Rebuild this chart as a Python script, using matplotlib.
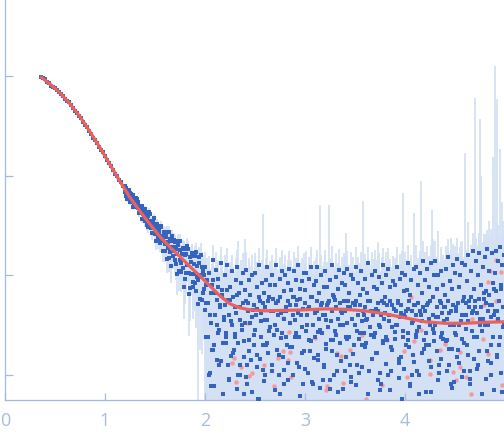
import numpy as np
import matplotlib.pyplot as plt

# q in units of 0.01 (0.001 for the *_b and tail sets), log10(intensity) in units of 0.01,
# error in units of 1e-3

# Guinier region (clean)
q_low = [36, 38, 40, 42, 44, 46, 48, 50, 52, 54, 56, 58, 60, 62, 64, 66, 68, 70, 72, 74,
         76, 78, 80, 82, 84, 86, 88, 90, 92, 94, 96, 98, 100, 102, 104, 106, 108, 110, 112, 114,
         116, 118]
logi_low = [-1, -2, -3, -6, -7, -10, -11, -12, -14, -16, -18, -20, -23, -25, -26, -29, -32, -35, -37, -40,
            -42, -46, -49, -51, -55, -58, -62, -64, -67, -71, -74, -76, -80, -84, -87, -90, -94, -98, -100, -104,
            -107, -111]
err_low = [3, 3, 3, 3, 3, 3, 3, 3, 3, 3, 3, 3, 3, 3, 3, 3, 3, 3, 3, 3,
           3, 3, 3, 3, 3, 3, 3, 3, 3, 3, 3, 3, 3, 3, 3, 3, 3, 3, 3, 3,
           3, 3]

# mid q region
q_mid = [120, 121, 122, 123, 124, 125, 126, 127, 128, 129, 130, 131, 132, 133, 134, 135, 136, 137, 138, 139,
         140, 141, 142, 143, 144, 145, 146, 147, 148, 149, 150, 151, 152, 153, 154, 155, 156, 157, 158, 159,
         160, 161, 162, 163, 164, 165, 166, 167, 168, 169, 170, 171, 172, 173, 174, 175, 176, 177, 178, 179,
         180, 181, 182, 183, 184, 185, 186, 187, 188, 189, 190, 191, 192, 193, 194, 195, 196, 197, 198, 199]
logi_mid = [-111, -121, -116, -122, -115, -123, -127, -123, -120, -130,
            -131, -123, -130, -127, -138, -131, -137, -131, -139, -138,
            -134, -145, -150, -141, -146, -139, -153, -147, -153, -143,
            -159, -153, -150, -165, -154, -161, -152, -166, -163, -157,
            -176, -162, -157, -173, -183, -164, -172, -161, -181, -172,
            -167, -189, -179, -166, -196, -175, -188, -179, -193, -174,
            -204, -179, -190, -174, -198, -213, -187, -181, -207, -199,
            -181, -216, -191, -205, -182, -224, -202, -192, -218, -200]
err_mid = [3, 3, 3, 3, 3, 3, 3, 3, 3, 3, 3, 3, 3, 3, 3, 3, 3, 3, 3, 3,
           4, 4, 4, 4, 4, 4, 4, 4, 4, 4, 4, 4, 4, 4, 4, 4, 4, 4, 4, 4,
           4, 4, 4, 4, 4, 4, 4, 4, 4, 4, 4, 4, 4, 4, 4, 4, 4, 4, 4, 4,
           4, 4, 4, 4, 4, 4, 4, 4, 4, 4, 4, 4, 4, 5, 4, 4, 5, 5, 4, 5]

q_mid_b = [1205, 1215, 1225, 1235, 1245, 1255, 1265, 1275, 1285, 1295,
           1305, 1315, 1325, 1335, 1345, 1355, 1365, 1375, 1385, 1395,
           1405, 1415, 1425, 1435, 1445, 1455, 1465, 1475, 1485, 1495,
           1505, 1515, 1525, 1535, 1545, 1555, 1565, 1575, 1585, 1595,
           1605, 1615, 1625, 1635, 1645, 1655, 1665, 1675, 1685, 1695,
           1705, 1715, 1725, 1735, 1745, 1755, 1765, 1775, 1785, 1795,
           1805, 1815, 1825, 1835, 1845, 1855, 1865, 1875, 1885, 1895,
           1905, 1915, 1925, 1935, 1945, 1955, 1965, 1975, 1985, 1995]
logi_mid_b = [-117, -113, -124, -120, -118, -127, -119, -127, -132, -127,
              -126, -132, -124, -133, -138, -131, -135, -144, -134, -141,
              -146, -137, -142, -152, -137, -150, -158, -146, -151, -158,
              -150, -166, -149, -161, -157, -168, -151, -163, -176, -159,
              -169, -158, -184, -167, -157, -177, -191, -166, -176, -165,
              -185, -174, -199, -170, -166, -185, -197, -179, -173, -212,
              -180, -198, -171, -190, -219, -182, -199, -178, -212, -189,
              -208, -177, -202, -229, -188, -200, -180, -225, -196, -214]
err_mid_b = [3, 3, 3, 3, 3, 3, 3, 3, 3, 3,
             3, 3, 3, 3, 3, 3, 3, 3, 3, 3,
             4, 4, 4, 4, 4, 4, 4, 4, 4, 4,
             4, 4, 4, 4, 4, 4, 4, 4, 4, 4,
             4, 4, 4, 4, 4, 4, 4, 4, 4, 4,
             4, 4, 4, 4, 4, 4, 4, 4, 4, 4,
             4, 4, 4, 4, 4, 4, 4, 4, 4, 4,
             4, 4, 4, 5, 4, 4, 5, 4, 5, 5]

# high q region (noisy)
q_high = [200, 201, 202, 203, 204, 205, 206, 207, 208, 209,
          210, 211, 212, 213, 214, 215, 216, 217, 218, 219,
          220, 221, 222, 223, 224, 225, 226, 227, 228, 229,
          230, 231, 232, 233, 234, 235, 236, 237, 238, 239,
          240, 241, 242, 243, 244, 245, 246, 247, 248, 249,
          250, 251, 252, 253, 254, 255, 256, 257, 258, 259,
          260, 261, 262, 263, 264, 265, 266, 267, 268, 269,
          270, 271, 272, 273, 274, 275, 276, 277, 278, 279,
          280, 281, 282, 283, 284, 285, 286, 287, 288, 289,
          290, 291, 292, 293, 294, 295, 296, 297, 298, 299,
          300, 301, 302, 303, 304, 305, 306, 307, 308, 309,
          310, 311, 312, 313, 314, 315, 316, 317, 318, 319,
          320, 321, 322, 323, 324, 325, 326, 327, 328, 329,
          330, 331, 332, 333, 334, 335, 336, 337, 338, 339,
          340, 341, 342, 343, 344, 345, 346, 347, 348, 349,
          350, 351, 352, 353, 354, 355, 356, 357, 358, 359,
          360, 361, 362, 363, 364, 365, 366, 367, 368, 369,
          370, 371, 372, 373, 374, 375, 376, 377, 378, 379,
          380, 381, 382, 383, 384, 385, 386, 387, 388, 389,
          390, 391, 392, 393, 394, 395, 396, 397, 398, 399,
          400, 401, 402, 403, 404, 405, 406, 407, 408, 409,
          410, 411, 412, 413, 414, 415, 416, 417, 418, 419,
          420, 421, 422, 423, 424, 425, 426, 427, 428, 429,
          430, 431, 432, 433, 434, 435, 436, 437, 438, 439,
          440, 441, 442, 443, 444, 445, 446, 447, 448, 449,
          450, 451, 452, 453, 454, 455, 456, 457, 458, 459,
          460, 461, 462, 463, 464, 465, 466, 467, 468, 469,
          470, 471, 472, 473, 474, 475, 476, 477, 478, 479,
          480, 481, 482, 483, 484, 485, 486, 487, 488, 489,
          490, 491, 492, 493, 494, 495, 496, 497, 498, 499]
logi_high = [-192, -228, -205, -262, -198, -240, -312, -210, -185, -270,
             -218, -195, -250, -204, -290, -230, -188, -215, -335, -242,
             -200, -262, -190, -225, -305, -212, -246, -196, -278, -360,
             -232, -205, -192, -268, -218, -300, -208, -250, -198, -320,
             -215, -195, -290, -228, -205, -248, -380, -200, -235, -270,
             -198, -240, -212, -325, -190, -226, -262, -208, -295, -218,
             -245, -205, -192, -278, -222, -210, -350, -200, -236, -260,
             -210, -190, -255, -226, -300, -204, -238, -196, -282, -216,
             -200, -232, -270, -208, -194, -248, -215, -330, -222, -196,
             -262, -205, -225, -190, -292, -214, -240, -206, -310, -198,
             -215, -198, -250, -234, -204, -276, -192, -222, -365, -210,
             -238, -206, -192, -285, -218, -255, -200, -228, -305, -212,
             -196, -245, -212, -228, -340, -205, -265, -190, -220, -300,
             -225, -202, -280, -214, -195, -250, -236, -208, -315, -198,
             -210, -262, -194, -232, -218, -290, -200, -244, -204, -355,
             -230, -192, -256, -208, -298, -220, -196, -270, -214, -240,
             -204, -245, -218, -188, -330, -226, -260, -200, -236, -212,
             -196, -278, -214, -236, -202, -252, -310, -208, -190, -228,
             -222, -200, -265, -194, -240, -212, -296, -230, -206, -345,
             -210, -250, -192, -226, -284, -204, -238, -198, -262, -216,
             -200, -236, -215, -188, -272, -220, -205, -300, -246, -194,
             -230, -192, -256, -210, -320, -198, -240, -218, -186, -265,
             -205, -270, -194, -228, -212, -250, -188, -335, -222, -200,
             -186, -242, -214, -200, -290, -226, -196, -258, -210, -232,
             -220, -194, -265, -182, -238, -206, -310, -214, -190, -250,
             -198, -232, -184, -275, -212, -200, -246, -188, -360, -222,
             -190, -254, -206, -180, -226, -296, -196, -238, -176, -214,
             -232, -186, -262, -200, -178, -244, -210, -320, -192, -224,
             -182, -216, -174, -250, -196, -230, -288, -178, -208, -240,
             -198, -176, -236, -186, -270, -172, -214, -190, -252, -180]
err_high = [5, 5, 6, 5, 5, 6, 5, 5, 6, 5,
            5, 6, 5, 5, 6, 5, 6, 5, 5, 6,
            6, 5, 6, 6, 5, 6, 6, 5, 6, 6,
            6, 6, 6, 20, 6, 5, 6, 6, 6, 6,
            16, 6, 6, 6, 6, 6, 5, 6, 6, 6,
            6, 6, 6, 6, 6, 6, 6, 6, 40, 6,
            6, 6, 6, 7, 6, 6, 6, 6, 6, 6,
            6, 6, 7, 6, 6, 6, 6, 7, 6, 6,
            6, 7, 6, 6, 6, 6, 7, 6, 6, 6,
            6, 6, 6, 7, 6, 6, 6, 6, 7, 6,
            6, 7, 6, 6, 6, 6, 7, 6, 6, 6,
            6, 6, 6, 6, 6, 48, 6, 7, 6, 6,
            7, 6, 6, 6, 50, 6, 6, 7, 6, 6,
            6, 7, 6, 6, 7, 6, 6, 7, 6, 6,
            7, 24, 6, 7, 6, 6, 7, 6, 6, 7,
            6, 7, 6, 7, 6, 7, 6, 6, 48, 7,
            7, 6, 7, 6, 7, 7, 6, 7, 6, 7,
            7, 6, 7, 17, 7, 6, 7, 7, 6, 7,
            7, 7, 6, 7, 7, 7, 6, 7, 7, 7,
            7, 7, 7, 6, 7, 7, 7, 7, 65, 7,
            7, 7, 7, 7, 7, 7, 7, 7, 7, 31,
            7, 8, 7, 7, 8, 7, 85, 7, 8, 7,
            8, 7, 8, 7, 8, 8, 7, 45, 17, 8,
            8, 8, 8, 18, 8, 8, 8, 8, 8, 8,
            8, 8, 8, 8, 8, 8, 23, 8, 8, 8,
            9, 8, 9, 8, 9, 9, 18, 9, 8, 9,
            155, 9, 9, 18, 9, 9, 9, 10, 9, 9,
            600, 10, 9, 10, 10, 365, 90, 10, 9, 20,
            10, 19, 10, 10, 24, 11, 10, 10, 145, 11,
            1250, 11, 580, 12, 11, 165, 12, 42, 32, 12]

q_high_b = [2005, 2015, 2025, 2035, 2045, 2055, 2065, 2075, 2085, 2095,
            2105, 2115, 2125, 2135, 2145, 2155, 2165, 2175, 2185, 2195,
            2205, 2215, 2225, 2235, 2245, 2255, 2265, 2275, 2285, 2295,
            2305, 2315, 2325, 2335, 2345, 2355, 2365, 2375, 2385, 2395,
            2405, 2415, 2425, 2435, 2445, 2455, 2465, 2475, 2485, 2495,
            2505, 2515, 2525, 2535, 2545, 2555, 2565, 2575, 2585, 2595,
            2605, 2615, 2625, 2635, 2645, 2655, 2665, 2675, 2685, 2695,
            2705, 2715, 2725, 2735, 2745, 2755, 2765, 2775, 2785, 2795,
            2805, 2815, 2825, 2835, 2845, 2855, 2865, 2875, 2885, 2895,
            2905, 2915, 2925, 2935, 2945, 2955, 2965, 2975, 2985, 2995,
            3005, 3015, 3025, 3035, 3045, 3055, 3065, 3075, 3085, 3095,
            3105, 3115, 3125, 3135, 3145, 3155, 3165, 3175, 3185, 3195,
            3205, 3215, 3225, 3235, 3245, 3255, 3265, 3275, 3285, 3295,
            3305, 3315, 3325, 3335, 3345, 3355, 3365, 3375, 3385, 3395,
            3405, 3415, 3425, 3435, 3445, 3455, 3465, 3475, 3485, 3495,
            3505, 3515, 3525, 3535, 3545, 3555, 3565, 3575, 3585, 3595,
            3605, 3615, 3625, 3635, 3645, 3655, 3665, 3675, 3685, 3695,
            3705, 3715, 3725, 3735, 3745, 3755, 3765, 3775, 3785, 3795,
            3805, 3815, 3825, 3835, 3845, 3855, 3865, 3875, 3885, 3895,
            3905, 3915, 3925, 3935, 3945, 3955, 3965, 3975, 3985, 3995,
            4005, 4015, 4025, 4035, 4045, 4055, 4065, 4075, 4085, 4095,
            4105, 4115, 4125, 4135, 4145, 4155, 4165, 4175, 4185, 4195,
            4205, 4215, 4225, 4235, 4245, 4255, 4265, 4275, 4285, 4295,
            4305, 4315, 4325, 4335, 4345, 4355, 4365, 4375, 4385, 4395,
            4405, 4415, 4425, 4435, 4445, 4455, 4465, 4475, 4485, 4495,
            4505, 4515, 4525, 4535, 4545, 4555, 4565, 4575, 4585, 4595,
            4605, 4615, 4625, 4635, 4645, 4655, 4665, 4675, 4685, 4695,
            4705, 4715, 4725, 4735, 4745, 4755, 4765, 4775, 4785, 4795,
            4805, 4815, 4825, 4835, 4845, 4855, 4865, 4875, 4885, 4895,
            4905, 4915, 4925, 4935, 4945, 4955, 4965, 4975, 4985, 4995]
logi_high_b = [-235, -210, -262, -228, -300, -218, -248, -205, -275, -330,
               -240, -225, -285, -212, -255, -232, -370, -220, -268, -245,
               -230, -258, -215, -290, -240, -225, -340, -250, -222, -275,
               -262, -238, -220, -300, -245, -232, -395, -255, -228, -282,
               -248, -226, -310, -236, -265, -220, -285, -242, -350, -230,
               -255, -234, -280, -222, -325, -246, -238, -270, -228, -300,
               -232, -268, -245, -226, -385, -252, -236, -290, -224, -260,
               -250, -228, -275, -240, -320, -222, -258, -236, -295, -244,
               -236, -262, -226, -305, -248, -230, -272, -355, -240, -222,
               -245, -230, -288, -238, -262, -224, -340, -252, -234, -276,
               -228, -256, -240, -298, -232, -266, -222, -250, -310, -238,
               -262, -236, -226, -280, -244, -375, -230, -258, -240, -292,
               -240, -274, -230, -252, -226, -315, -246, -236, -265, -222,
               -256, -232, -296, -244, -228, -268, -345, -238, -250, -226,
               -236, -282, -248, -226, -262, -232, -308, -244, -228, -270,
               -250, -226, -290, -240, -264, -230, -330, -246, -236, -258,
               -232, -268, -244, -226, -296, -252, -236, -390, -240, -262,
               -258, -234, -278, -228, -250, -316, -240, -226, -266, -244,
               -238, -262, -230, -300, -246, -226, -272, -252, -350, -234,
               -264, -236, -250, -228, -288, -242, -230, -325, -256, -240,
               -242, -270, -234, -258, -226, -310, -248, -236, -280, -230,
               -262, -240, -296, -228, -252, -236, -365, -246, -232, -274,
               -236, -258, -230, -286, -244, -226, -318, -254, -240, -266,
               -250, -232, -276, -242, -298, -228, -262, -238, -340, -246,
               -232, -266, -244, -226, -290, -250, -236, -274, -230, -308,
               -258, -236, -282, -228, -250, -380, -240, -264, -226, -296,
               -240, -228, -270, -246, -232, -304, -222, -256, -236, -284,
               -226, -262, -238, -290, -224, -250, -232, -330, -244, -218,
               -250, -228, -276, -236, -220, -300, -242, -230, -262, -214,
               -236, -216, -280, -244, -226, -262, -210, -318, -232, -248]
err_high_b = [5, 5, 6, 5, 6, 5, 5, 6, 5, 6,
              6, 5, 6, 5, 6, 6, 5, 6, 6, 5,
              6, 6, 5, 6, 6, 6, 6, 5, 6, 6,
              6, 6, 6, 6, 6, 6, 6, 6, 6, 6,
              6, 6, 6, 6, 6, 6, 6, 6, 6, 6,
              6, 6, 6, 7, 6, 6, 6, 6, 6, 6,
              6, 6, 7, 6, 6, 6, 7, 6, 6, 6,
              6, 6, 6, 6, 7, 6, 6, 6, 6, 6,
              6, 6, 7, 6, 6, 7, 6, 6, 6, 6,
              7, 6, 6, 6, 6, 6, 7, 6, 6, 6,
              6, 6, 7, 6, 6, 6, 6, 7, 6, 6,
              7, 6, 6, 6, 7, 6, 6, 6, 6, 7,
              6, 6, 7, 6, 6, 7, 6, 6, 7, 6,
              6, 7, 6, 6, 7, 6, 7, 6, 6, 7,
              7, 6, 7, 6, 7, 6, 7, 7, 6, 7,
              7, 7, 6, 7, 7, 6, 7, 7, 7, 6,
              7, 7, 7, 6, 7, 7, 7, 7, 6, 7,
              7, 7, 7, 7, 7, 7, 7, 6, 7, 7,
              7, 7, 7, 7, 8, 7, 7, 7, 7, 7,
              7, 8, 7, 7, 7, 7, 8, 7, 7, 7,
              8, 7, 7, 8, 7, 8, 7, 7, 8, 7,
              8, 7, 8, 8, 7, 8, 8, 7, 8, 8,
              8, 8, 8, 8, 8, 8, 8, 8, 8, 8,
              8, 9, 8, 8, 9, 8, 8, 9, 8, 8,
              9, 8, 9, 9, 8, 9, 9, 9, 8, 9,
              9, 9, 9, 10, 9, 9, 10, 9, 9, 10,
              10, 9, 12, 10, 10, 14, 10, 11, 10, 12,
              12, 16, 11, 13, 20, 12, 14, 11, 18, 13,
              15, 12, 22, 14, 17, 13, 25, 15, 19, 14,
              16, 22, 14, 28, 18, 20, 15, 26, 17, 21]

# weak points in the lower part of the noisy region
q_tail = [2012, 2047, 2068, 2093, 2131, 2158, 2176, 2214, 2243, 2262,
          2297, 2318, 2351, 2389, 2407, 2436, 2471, 2495, 2523, 2552,
          2588, 2614, 2637, 2669, 2702, 2738, 2761, 2793, 2826, 2852,
          2884, 2913, 2947, 2972, 3004, 3038, 3066, 3093, 3127, 3152,
          3186, 3211, 3248, 3273, 3306, 3334, 3362, 3398, 3421, 3457,
          3483, 3512, 3546, 3571, 3604, 3633, 3667, 3692, 3728, 3755,
          3781, 3814, 3846, 3873, 3902, 3938, 3964, 3991, 4027, 4053,
          4086, 4112, 4145, 4173, 4207, 4236, 4264, 4292, 4328, 4355,
          4383, 4417, 4442, 4474, 4506, 4538, 4565, 4593, 4627, 4654,
          4688, 4716, 4743, 4772, 4806, 4834, 4861, 4893, 4925, 4957]
logi_tail = [-262, -298, -275, -312, -258, -286, -320, -268, -304, -281,
             -259, -315, -290, -266, -302, -276, -318, -260, -292, -284,
             -307, -270, -256, -296, -316, -280, -263, -310, -288, -272,
             -300, -258, -322, -278, -294, -265, -308, -283, -257, -314,
             -290, -269, -305, -276, -260, -318, -286, -296, -264, -302,
             -279, -311, -258, -292, -272, -320, -284, -262, -306, -298,
             -268, -289, -316, -275, -257, -303, -282, -294, -265, -312,
             -287, -260, -300, -278, -318, -270, -292, -258, -306, -284,
             -264, -296, -274, -314, -260, -288, -302, -268, -280, -310,
             -262, -294, -276, -256, -304, -286, -270, -316, -282, -298]
err_tail = [6, 6, 6, 6, 6, 6, 6, 6, 6, 6,
            6, 6, 6, 6, 6, 6, 6, 6, 6, 6,
            6, 6, 6, 6, 6, 7, 6, 6, 7, 6,
            6, 7, 6, 7, 6, 6, 7, 6, 7, 6,
            7, 6, 7, 7, 6, 7, 7, 6, 7, 7,
            7, 7, 6, 7, 7, 7, 7, 7, 7, 7,
            7, 7, 7, 7, 7, 8, 7, 7, 7, 8,
            7, 8, 7, 8, 8, 7, 8, 8, 8, 8,
            8, 8, 9, 8, 9, 8, 9, 9, 9, 9,
            10, 9, 10, 11, 10, 12, 11, 12, 13, 12]

# negative intensities, shown by magnitude
q_neg = [227, 229, 231, 236, 243, 244, 247, 259, 269, 273, 278, 278, 284, 283, 285, 286,
         310, 322, 321, 332, 336, 338, 345, 357, 361, 377, 382, 399, 402, 406, 409, 416,
         425, 425, 435, 440, 448, 451, 455, 455, 461, 466, 467, 478, 479, 483, 483, 485,
         491, 491, 492, 496, 497]
logi_neg = [-288, -283, -308, -292, -248, -301, -298, -290, -312, -283, -243, -276, -257, -285, -277, -302,
            -263, -312, -316, -278, -281, -309, -275, -260, -325, -311, -265, -276, -302, -222, -266, -255,
            -285, -299, -275, -269, -297, -306, -292, -277, -302, -320, -244, -264, -230, -279, -207, -196,
            -185, -226, -244, -197, -311]

# fitted model curve
q_fit = [0.36, 0.45, 0.55, 0.65, 0.75, 0.85, 0.95, 1.05, 1.15, 1.25, 1.35, 1.45, 1.55, 1.65, 1.75,
         1.85, 1.95, 2.05, 2.15, 2.25, 2.35, 2.45, 2.6, 2.8, 3.0, 3.2, 3.4, 3.6, 3.8, 4.0,
         4.2, 4.4, 4.6, 4.8, 4.99]
logi_fit = [-0.01, -0.08, -0.17, -0.28, -0.41, -0.56, -0.72, -0.89, -1.06, -1.22, -1.36, -1.49, -1.615, -1.72, -1.815,
            -1.915, -2.01, -2.11, -2.21, -2.29, -2.33, -2.35, -2.36, -2.355, -2.35, -2.34, -2.345, -2.36, -2.39, -2.43,
            -2.47, -2.485, -2.485, -2.475, -2.47]

q = np.concatenate([np.array(q_low + q_mid + q_high) / 100,
                    np.array(q_mid_b + q_high_b + q_tail) / 1000])
logi = np.array(logi_low + logi_mid + logi_high + logi_mid_b + logi_high_b + logi_tail) / 100
inten = 10 ** logi
err = np.array(err_low + err_mid + err_high + err_mid_b + err_high_b + err_tail) / 1000
lo = np.clip(inten - err, 1e-5, None)
hi = inten + err

fig = plt.figure(figsize=(5.04, 4.38), dpi=100)
ax = fig.add_axes([5 / 504, 38 / 438, 499 / 504, 400 / 438])

ax.vlines(q, lo, hi, color='#d4e0f3', linewidth=1.3, zorder=1)
ax.plot(np.array(q_neg) / 100, 10 ** (np.array(logi_neg) / 100), 'o', color='#f39a9a',
        markersize=3.2, markeredgewidth=0, zorder=2)
ax.plot(q, inten, 's', color='#3563c0', markersize=3.0, markeredgewidth=0, zorder=3)
ax.plot(q_fit, 10 ** np.array(logi_fit), color='#ea625c', linewidth=2.3,
        solid_capstyle='round', zorder=4)

ax.set_yscale('log')
ax.set_xlim(0, 4.99)
ax.set_ylim(10 ** -3.256, 10 ** 0.764)
ax.set_xticks([0, 1, 2, 3, 4])
ax.set_yticks([1e-3, 1e-2, 1e-1, 1])
ax.yaxis.set_minor_locator(plt.NullLocator())
ax.set_yticklabels([])

axis_col = '#a3b8e2'
for s in ['top', 'right']:
    ax.spines[s].set_visible(False)
for s in ['left', 'bottom']:
    ax.spines[s].set_color(axis_col)
    ax.spines[s].set_linewidth(0.9)
ax.tick_params(axis='x', direction='in', length=5, width=0.9, color=axis_col,
               labelcolor='#a8bbe2', labelsize=13, pad=9)
ax.tick_params(axis='y', direction='in', length=6, width=0.9, color=axis_col)
for lab in ax.get_xticklabels():
    lab.set_family('Open Sans')

fig.savefig('out.png', dpi=100)
